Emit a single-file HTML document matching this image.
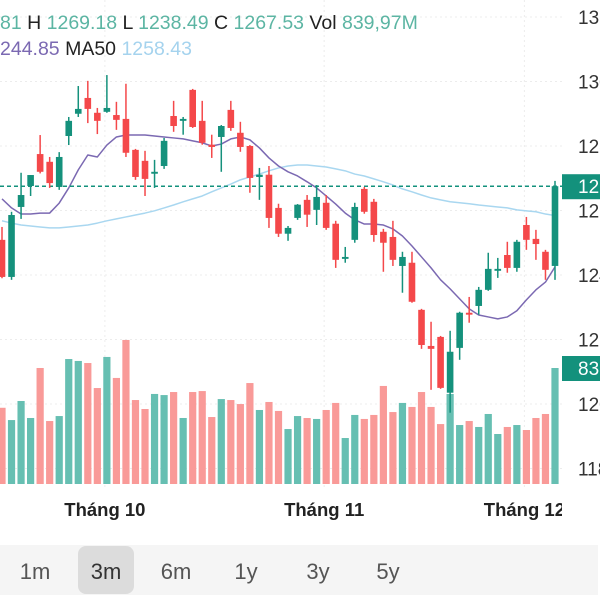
<!DOCTYPE html>
<html><head><meta charset="utf-8">
<style>
html,body{margin:0;padding:0;background:#fff;width:600px;height:600px;overflow:hidden;font-family:"Liberation Sans",sans-serif;}
svg{position:absolute;left:0;top:0;}
</style></head>
<body>
<svg id="chart" width="600" height="600" viewBox="0 0 600 600">
  <g id="grid"></g>
  <g id="vol"></g>
  <g id="lines"></g>
  <g id="candles"></g>
  <g id="axis"></g>
  <g id="xaxis"></g>
  <text x="0" y="29" font-size="19.5"><tspan fill="#5cb5a3">81</tspan><tspan fill="#222"> H </tspan><tspan fill="#5cb5a3">1269.18</tspan><tspan fill="#222"> L </tspan><tspan fill="#5cb5a3">1238.49</tspan><tspan fill="#222"> C </tspan><tspan fill="#5cb5a3">1267.53</tspan><tspan fill="#222"> Vol </tspan><tspan fill="#5cb5a3">839,97M</tspan></text>
  <text x="0" y="55" font-size="19.5"><tspan fill="#7b69b2">244.85</tspan><tspan fill="#222"> MA50 </tspan><tspan fill="#a5d3ee">1258.43</tspan></text>
  <g>
    <rect x="0" y="545" width="598" height="50" fill="#f5f5f5"/>
    <rect x="78" y="546" width="56" height="48" rx="8" fill="#dcdcdc"/>
    <g font-size="22" fill="#555" text-anchor="middle">
      <text x="35" y="579">1m</text>
      <text x="106" y="579" fill="#333">3m</text>
      <text x="176" y="579">6m</text>
      <text x="246" y="579">1y</text>
      <text x="318" y="579">3y</text>
      <text x="388" y="579">5y</text>
    </g>
  </g>
</svg>
<script>
const opens=[1250.9,1239.4,1261.1,1267.6,1277.5,1275.1,1267.3,1283.1,1290.0,1294.9,1290.3,1290.6,1289.6,1288.4,1278.8,1275.4,1271.4,1273.8,1289.3,1287.8,1297.4,1287.8,1280.4,1282.8,1291.2,1284.1,1280.0,1270.4,1271.1,1260.8,1252.8,1257.7,1263.3,1260.2,1262.4,1255.9,1245.0,1250.9,1266.7,1262.7,1253.4,1251.8,1242.8,1243.8,1229.2,1218.0,1220.8,1203.5,1217.4,1228.3,1230.4,1235.4,1241.3,1246.2,1242.2,1255.5,1251.2,1247.2,1242.81];
const highs=[1254.9,1259.6,1271.7,1271.0,1283.4,1276.6,1278.1,1289.0,1298.6,1300.2,1291.8,1302.0,1293.7,1299.3,1279.1,1278.5,1275.7,1282.5,1294.0,1289.0,1297.7,1294.0,1283.5,1286.5,1294.0,1287.5,1280.3,1273.2,1273.8,1262.1,1255.2,1262.0,1264.8,1267.9,1264.8,1256.8,1248.7,1262.4,1267.3,1263.6,1254.3,1256.8,1247.2,1247.2,1229.5,1225.5,1221.1,1222.7,1228.6,1233.2,1236.3,1246.9,1245.3,1250.3,1250.9,1258.0,1254.0,1247.8,1269.18];
const lows=[1239.0,1238.5,1257.4,1264.5,1271.5,1267.0,1266.4,1280.3,1289.0,1287.1,1283.7,1290.3,1285.0,1276.6,1269.5,1264.5,1267.0,1272.9,1284.4,1283.5,1285.6,1280.4,1276.3,1272.0,1284.7,1278.2,1265.5,1263.3,1254.6,1251.8,1250.6,1257.1,1254.9,1255.5,1254.0,1242.2,1243.8,1250.0,1259.0,1250.3,1241.0,1242.8,1234.5,1231.4,1217.1,1204.4,1204.7,1197.3,1213.7,1225.2,1227.7,1235.1,1239.1,1240.7,1241.0,1247.8,1244.7,1238.5,1238.49];
const closes=[1239.4,1258.6,1264.8,1271.0,1272.0,1268.5,1276.6,1287.8,1291.5,1291.5,1287.8,1291.8,1288.1,1277.9,1270.4,1269.8,1272.0,1281.6,1286.2,1288.4,1285.9,1281.0,1279.7,1286.2,1285.6,1279.7,1270.1,1271.1,1257.7,1252.8,1254.6,1261.8,1258.7,1264.2,1254.6,1244.7,1245.6,1261.1,1259.6,1252.4,1250.0,1244.7,1245.6,1231.7,1218.3,1217.1,1205.0,1216.2,1228.3,1227.7,1235.4,1241.9,1241.9,1242.2,1250.3,1250.9,1249.6,1241.6,1267.53];
const volumes=[552,463,601,478,840,456,492,905,891,876,695,920,768,1043,608,543,652,644,666,478,666,673,485,615,608,579,731,536,594,529,398,492,478,471,536,587,333,500,471,500,710,521,587,558,666,558,434,652,427,456,413,507,362,413,427,391,478,507,839.97];
const ma20=[1263.6,1260.8,1258.9,1258.9,1259.2,1259.2,1262.3,1267.0,1272.6,1277.2,1276.6,1280.3,1282.8,1283.4,1283.4,1283.4,1283.1,1282.8,1282.5,1282.2,1281.6,1281.0,1280.0,1280.6,1282.2,1282.8,1281.9,1279.4,1276.3,1273.8,1272.0,1270.7,1268.9,1267.0,1264.5,1262.0,1259.2,1257.1,1255.8,1255.8,1255.5,1254.3,1252.1,1249.0,1245.6,1242.2,1238.5,1235.7,1232.6,1229.5,1227.6,1227.0,1226.4,1227.0,1228.9,1232.3,1235.4,1237.8,1242.5];
const ma50=[1256.8,1256.1,1255.5,1255.2,1254.9,1254.6,1254.6,1254.9,1255.2,1255.5,1256.1,1256.8,1257.4,1258.0,1258.6,1259.2,1259.9,1260.8,1261.7,1262.7,1263.6,1264.5,1265.8,1267.0,1268.2,1269.5,1270.4,1271.3,1272.3,1273.2,1273.8,1274.1,1274.1,1273.8,1273.5,1272.9,1272.3,1271.3,1270.7,1269.8,1268.9,1267.9,1266.7,1265.8,1264.8,1263.9,1263.3,1262.7,1262.4,1262.1,1261.7,1261.4,1261.1,1260.8,1260.2,1259.9,1259.6,1258.9,1258.43];
const priceTicks=[1320,1300,1280,1260,1240,1220,1200,1180];
const priceTickLabels=["1320","1300","1280","1260","1240","1220","1200","1180"];
const monthIdx=[11,34,55];
const monthLabels=["Tháng 10","Tháng 11","Tháng 12"];
const lastPriceLabel="1267.53";
const lastVolLabel="839,97M";

const NS="http://www.w3.org/2000/svg";
const PLOT_R=562, VOL_BASE=484, VOL_H_LAST=116;
function X(i){return 2+i*(553/(opens.length-1));}
function Y(v){return 17+(1320-v)*3.225;}
function VH(v){return v/volumes[volumes.length-1]*VOL_H_LAST;}
function mk(tag,attrs,parent){const e=document.createElementNS(NS,tag);for(const k in attrs)e.setAttribute(k,attrs[k]);parent.appendChild(e);return e;}

const grid=document.getElementById('grid');
priceTicks.forEach((t,k)=>{
  const l=mk('line',{x1:0,x2:PLOT_R,y1:Y(t),y2:Y(t),stroke:'#ececec','stroke-width':1,'stroke-dasharray':'2,3'},grid);
  
  
});
monthIdx.forEach((m,k)=>{
  const l=mk('line',{x1:X(m)-2,x2:X(m)-2,y1:0,y2:490,stroke:'#ececec','stroke-width':1,'stroke-dasharray':'2,3'},grid);
  
  
});

const vol=document.getElementById('vol');
volumes.forEach((v,i)=>{
  const up=closes[i]>=opens[i];
  const h=VH(v);
  const r=mk('rect',{x:X(i)-3.6,y:VOL_BASE-h,width:7.2,height:h,fill:up?'#66bfb2':'#f99a98'},vol);
  
  
});

const lines=document.getElementById('lines');
function poly(arr,color,name){
  const p=mk('polyline',{points:arr.map((v,i)=>X(i)+','+Y(v)).join(' '),fill:'none',stroke:color,'stroke-width':1.5,'stroke-linejoin':'round'},lines);
  
  
}
poly(ma50,'#a9d7f0','ma50-line');
poly(ma20,'#7b69b2','ma20-line');

const dl=mk('line',{x1:0,x2:PLOT_R,y1:Y(closes[closes.length-1]),y2:Y(closes[closes.length-1]),stroke:'#13917c','stroke-width':1.5,'stroke-dasharray':'4,3'},lines);



const cg=document.getElementById('candles');
opens.forEach((o,i)=>{
  const c=closes[i], up=c>=o, col=up?'#15917c':'#f4484a';
  const g=mk('g',{},cg);
  
  
  mk('line',{x1:X(i),x2:X(i),y1:Y(highs[i]),y2:Y(lows[i]),stroke:col,'stroke-width':1.5},g);
  const top=Y(Math.max(o,c)), bot=Y(Math.min(o,c));
  mk('rect',{x:X(i)-3.3,y:top,width:6.6,height:Math.max(bot-top,1.5),fill:col},g);
});

const ax=document.getElementById('axis');
priceTicks.forEach((t,k)=>{
  const tx=mk('text',{x:578,y:Y(t)+7,'font-size':19,fill:'#333'},ax);
  tx.textContent=priceTickLabels[k];
  
  
});
const ly=Y(closes[closes.length-1]);
const pt=mk('rect',{x:562,y:ly-12,width:38,height:25,fill:'#13917c'},ax);


const ptt=mk('text',{x:578,y:ly+7,'font-size':19,fill:'#fff'},ax);
ptt.textContent=lastPriceLabel;


const vy=VOL_BASE-VH(volumes[volumes.length-1]);
const vt=mk('rect',{x:562,y:vy-12,width:38,height:25,fill:'#13917c'},ax);


const vtt=mk('text',{x:578,y:vy+7,'font-size':19,fill:'#fff'},ax);
vtt.textContent=lastVolLabel;



const xa=document.getElementById('xaxis');
const clip=mk('clipPath',{id:'xclip'},xa);
mk('rect',{x:0,y:480,width:PLOT_R,height:50},clip);
monthIdx.forEach((m,k)=>{
  const t=mk('text',{x:X(m)-2,y:516,'font-size':18.5,'font-weight':'bold',fill:'#222','text-anchor':'middle','clip-path':'url(#xclip)'},xa);
  t.textContent=monthLabels[k];
  
  
});
</script>
</body></html>
